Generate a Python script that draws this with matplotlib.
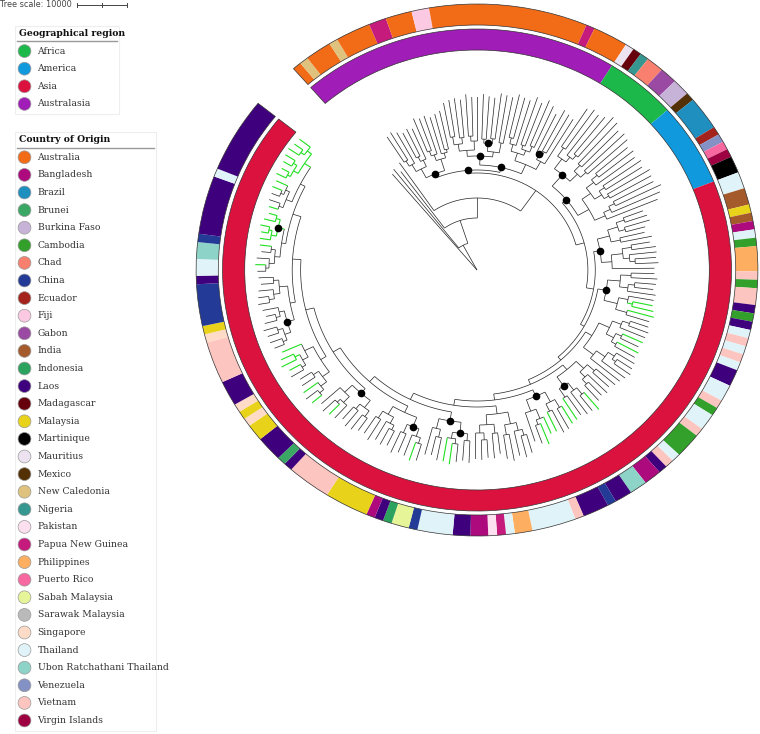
import numpy as np
import matplotlib
matplotlib.use('Agg')
import matplotlib.pyplot as plt
from matplotlib.patches import Wedge, Rectangle
from matplotlib.collections import LineCollection

# legend entries
countries = ['Australia', 'Bangladesh', 'Brazil', 'Brunei', 'Burkina Faso', 'Cambodia', 'Chad',
             'China', 'Ecuador', 'Fiji', 'Gabon', 'India', 'Indonesia', 'Laos', 'Madagascar',
             'Malaysia', 'Martinique', 'Mauritius', 'Mexico', 'New Caledonia', 'Nigeria',
             'Pakistan', 'Papua New Guinea', 'Philippines', 'Puerto Rico', 'Sabah Malaysia',
             'Sarawak Malaysia', 'Singapore', 'Thailand', 'Ubon Ratchathani Thailand',
             'Venezuela', 'Vietnam', 'Virgin Islands']
country_colors = ['#f26b16', '#ad0a7e', '#1f8fc0', '#3aa864', '#c8b3d8', '#33a02c', '#f9806e',
                  '#233a96', '#a4231c', '#fcc9e3', '#9b4aa3', '#a55a2b', '#2ca25f', '#3f007d',
                  '#67000d', '#e8d31a', '#000000', '#ece2f0', '#543005', '#dfc27d', '#35978f',
                  '#fde0ef', '#c51b7d', '#fdae61', '#f768a1', '#e6f598', '#bababa', '#fddbc7',
                  '#e0f3f8', '#8dd3c7', '#8491c5', '#fcc5c0', '#9e0142']
regions = ['Africa', 'America', 'Asia', 'Australasia']
region_colors = ['#1cb84a', '#1199dd', '#dc123e', '#a11db7']

# inner ring: regions clockwise from the gap, leaves per block
region_seq = ['Australasia', 'Africa', 'America', 'Asia']
region_leaves = [40, 9, 11, 132]

# outer ring: country blocks clockwise from the gap, leaves per block
ring_country = [
    'Australia', 'New Caledonia', 'Australia', 'New Caledonia', 'Australia', 'Papua New Guinea',
    'Australia', 'Fiji', 'Australia', 'Papua New Guinea', 'Australia',
    'Mauritius', 'Madagascar', 'Nigeria', 'Chad', 'Gabon', 'Burkina Faso',
    'Mexico', 'Brazil', 'Ecuador', 'Venezuela', 'Puerto Rico', 'Virgin Islands', 'Martinique',
    'Thailand', 'India', 'Malaysia', 'India', 'Bangladesh', 'Thailand', 'Cambodia', 'Philippines',
    'Vietnam', 'Cambodia', 'Vietnam', 'Laos', 'Cambodia', 'Laos', 'Thailand', 'Vietnam',
    'Thailand', 'Vietnam', 'Thailand', 'Laos',
    'Thailand', 'Vietnam', 'Cambodia', 'Thailand', 'Vietnam', 'Cambodia', 'Thailand', 'Vietnam',
    'Laos', 'Bangladesh', 'Ubon Ratchathani Thailand', 'Laos', 'China', 'Laos', 'Vietnam',
    'Thailand',
    'Philippines', 'Thailand', 'Papua New Guinea', 'Pakistan', 'Bangladesh', 'Laos', 'Thailand',
    'China', 'Sabah Malaysia', 'Indonesia', 'Laos', 'Bangladesh', 'Malaysia', 'Vietnam', 'Laos',
    'Brunei', 'Laos', 'Malaysia', 'Singapore', 'Malaysia', 'Singapore', 'Laos', 'Vietnam',
    'Singapore', 'Malaysia', 'China', 'Laos', 'Thailand', 'Ubon Ratchathani Thailand', 'China',
    'Laos', 'Thailand', 'Laos']
ring_leaves = [1, 1, 3, 1, 4, 2, 3, 2, 18, 1, 4,
               1, 1, 1, 2, 2, 2,
               1, 4, 1, 1, 1, 1, 2,
               2, 2, 1, 1, 1, 1, 1, 3, 1, 1, 2, 1, 1, 1, 1, 1, 1, 1, 1, 2,
               2, 1, 1, 2, 1, 3, 1, 1, 1, 2, 2, 2, 1, 3, 1, 5,
               2, 1, 1, 1, 2, 2, 4, 1, 2, 1, 1, 1, 5, 5, 1, 1, 3, 2, 1, 1, 1, 3, 5, 1, 1, 5,
               1, 2, 2, 1, 7, 1, 9]

# tree pieces (newick, lengths in px of radius, '*' = supported node)
outgroup = [':125', ':100', ':70', ':58']
aus_a = "((((:30,:32):6,:35):8,((:28,:30):5,:33):7):10,(((:36,:34):5,:40):6,(:38,(:37,:39):3):5):12)*:4"
aus_b = ("(((((:35,:37):8,(:40,:38):6):7,((:42,:39):5,:44):9):6,(((:45,:43):4,(:41,:46):5)*:8,"
         "(:48,:47):10):5)*:9,((((:44,:42):6,:47):7,((:50,:46):4,(:49,:45):6):5):8,"
         "((:43,(:46,:44):4)*:6,:52):9):10)*:5")
africa = "(((:45,:48):10,(:50,(:47,:52):5):6):12,((:55,:50):8,(:53,:51):7):10)*:15"
america = "((((:40,:42):7,:46):9,((:44,:41):6,(:47,:45):5):8):10,(((:43,:48):6,:50):7,:52):11):12"
asia = [
    "((((:20,:22):8,(:25,:19):6):10,(:24,:30):9):12,(((:18,:23):9,(:26,(:20,:22):5):6):11,:40):10)*:6",
    "(((:22,:25):10,((:20,:18):6,:27):8):12,((:24,(:19,:21):5):9,(:26,:23):11):13)*:8",
    "((((:18,:20):7,:26):9,((:21,:19):6,(:23,:22):5):8):11,(((:20,(:17,:19):4):7,:28):10,:36):12):7",
    "(((:24,:21):9,(:26,(:18,:20):6):7):10,(((:22,:19):8,:27):9,(:23,:25):10)*:11):6",
    "(((:20,:23):9,(:25,:21):8):11,((:18,(:22,:19):5):10,:30):12)*:7",
    "((((:19,:22):6,:25):8,(:27,:24):10):12,((:21,:25):9,((:18,:20):7,:26):8):10):8",
    "(((:22,:20):7,((:18,:21):5,:24):6)*:11,((:23,:19):8,:28):10)*:9",
    "((((:17,:19):6,:22):8,(:20,:23):9)*:10,(((:16,:18):5,:21):7,(:24,:20):8):9):7",
    "(((:15,:18):7,(:20,:16):6):9,((:17,(:14,:16):4):8,:24):10)*:6",
    "((((:12,:14):5,:17):7,(:15,:13):6):8,(((:14,:12):4,(:16,:13):5):6,:20):9):6",
    "((((:10,:12):4,(:11,:13):5):6,((:12,:9):4,:15):5)*:7,(((:11,:10):5,:14):6,(:12,:14):5):8):5",
    "((((:8,:10):3,:12):5,(:9,:11):4):5,((:10,(:7,:9):3):5,(:11,:8):4)*:6):4",
    "(((:9,:11):4,((:8,:10):3,:12):4):6,(((:10,:8):3,(:9,:11):4):5,((:12,:10):4,:13):5):7):5",
]
backbone_r = [0, 28, 52, 72, 97, 105, 112, 116, 120, 125, 131, 137, 144, 151, 159, 167, 175, 183]
green_tips = [78, 79, 80, 85, 87, 99, 103, 104, 107, 108, 109, 125, 126, 131, 145, 148, 150,
              154, 155, 156, 157, 171, 174, 175, 176, 177, 178, 179, 180,
              183, 184, 185, 186, 187, 188, 189, 190, 191]

# layout (pixels): circle centre, x stretch, ring radii, angular span
cx, cy, sx = 477, 270, 1.056
start, span = 130.8, 349.6
inner_ring = (220, 241)
outer_ring = (245, 266)


def parse(s):
    pos = 0

    def node():
        nonlocal pos
        kids = []
        if s[pos] == '(':
            pos += 1
            kids.append(node())
            while s[pos] == ',':
                pos += 1
                kids.append(node())
            pos += 1
        label = ''
        while pos < len(s) and s[pos] not in ':,)':
            label += s[pos]
            pos += 1
        ln = 0.0
        if pos < len(s) and s[pos] == ':':
            pos += 1
            st = pos
            while pos < len(s) and s[pos] not in ',)':
                pos += 1
            ln = float(s[st:pos])
        return {'kids': kids, 'label': label, 'len': ln}
    return node()


parts = [parse(s) for s in outgroup]
parts.append({'kids': [parse(aus_a), parse(aus_b)], 'label': '*', 'len': 3})
parts.append({'kids': [parse(africa), parse(america)], 'label': '*', 'len': 5})
parts += [parse(s) for s in asia]


def backbone(k):
    if k == len(backbone_r) - 1:
        rest = parts[k + 1]
    else:
        rest = backbone(k + 1)
        rest['len'] = backbone_r[k + 1] - backbone_r[k]
    return {'kids': [parts[k], rest], 'label': '', 'len': 0}


tree = backbone(0)
n_tips = [0]


def count(n):
    return 1 if not n['kids'] else sum(count(k) for k in n['kids'])


w_tree = span / count(tree)
green_set = set(green_tips)


def place(n, r):
    n['r'] = r
    if not n['kids']:
        i = n_tips[0]
        n_tips[0] += 1
        n['a'] = start - (i + 0.5) * w_tree
        n['g'] = i in green_set
        return
    for k in n['kids']:
        place(k, r + k['len'])
    n['a'] = (n['kids'][0]['a'] + n['kids'][-1]['a']) / 2
    n['g'] = all(k['g'] for k in n['kids'])


place(tree, 0)

black_lines, green_lines, dots = [], [], []


def pt(r, a):
    t = np.radians(a)
    return r * np.cos(t), r * np.sin(t)


def collect(n):
    if not n['kids']:
        return
    a0, a1 = n['kids'][0]['a'], n['kids'][-1]['a']
    aa = np.linspace(a0, a1, max(2, int(abs(a1 - a0) * 2)))
    arc = np.column_stack(pt(n['r'], aa))
    (green_lines if n['g'] else black_lines).append(arc)
    for k in n['kids']:
        seg = [pt(n['r'], k['a']), pt(k['r'], k['a'])]
        (green_lines if k['g'] else black_lines).append(seg)
        collect(k)
    if n['label'] == '*':
        dots.append(pt(n['r'], n['a']))


collect(tree)

fig = plt.figure(figsize=(7.6, 7.34), dpi=100)
ax = fig.add_axes([0, 0, 1, 1])
ax.set_xlim(-cx / sx, (760 - cx) / sx)
ax.set_ylim(cy - 734, cy)
ax.axis('off')

# inner ring (regions)
reg_col = dict(zip(regions, region_colors))
a = start
w_reg = span / sum(region_leaves)
for name, n in zip(region_seq, region_leaves):
    ax.add_patch(Wedge((0, 0), inner_ring[1], a - n * w_reg, a, width=inner_ring[1] - inner_ring[0],
                       facecolor=reg_col[name], edgecolor='none'))
    a -= n * w_reg
ax.add_patch(Wedge((0, 0), inner_ring[1], start - span, start, width=inner_ring[1] - inner_ring[0],
                   fill=False, edgecolor='#333333', lw=0.5))

# outer ring (countries)
cty_col = dict(zip(countries, country_colors))
a = start
w_ring = span / sum(ring_leaves)
for name, n in zip(ring_country, ring_leaves):
    ax.add_patch(Wedge((0, 0), outer_ring[1], a - n * w_ring, a, width=outer_ring[1] - outer_ring[0],
                       facecolor=cty_col[name], edgecolor='none'))
    a -= n * w_ring
ax.add_patch(Wedge((0, 0), outer_ring[1], start - span, start, width=outer_ring[1] - outer_ring[0],
                   fill=False, edgecolor='#333333', lw=0.5))

ax.add_collection(LineCollection(black_lines, colors='#222222', linewidths=0.5))
ax.add_collection(LineCollection(green_lines, colors='#22e022', linewidths=0.8))
dx, dy = zip(*dots)
ax.plot(dx, dy, 'o', color='black', markersize=4.5)

# legend / labels in pixel coordinates
lg = fig.add_axes([0, 0, 1, 1])
lg.set_xlim(0, 760)
lg.set_ylim(734, 0)
lg.axis('off')

lg.text(0, 4.5, 'Tree scale: 10000', fontsize=5.9, color='#444444', va='center', ha='left')
lg.plot([77, 127], [4.5, 4.5], color='#444444', lw=0.7)
for x in (77, 102, 127):
    lg.plot([x, x], [2.5, 6.5], color='#444444', lw=0.7)


def legend_block(y0, title, names, colors, x_right):
    lg.add_patch(Rectangle((15, y0 - 8), x_right - 15, 17.6 * len(names) + 18,
                           fill=False, edgecolor='#eeeeee', lw=0.8))
    lg.text(19, y0, title, family='DejaVu Serif', fontweight='bold', fontsize=6.7,
            va='center', ha='left', color='#111111')
    lg.plot([17, x_right - 2], [y0 + 7.8, y0 + 7.8], color='#999999', lw=1)
    ys = y0 + 17.6 * (np.arange(len(names)) + 1)
    lg.scatter(np.full(len(names), 24.5), ys, s=85, c=colors, edgecolors='#999999',
               linewidths=0.5, zorder=3)
    for y, name in zip(ys, names):
        lg.text(37.5, y, name, family='DejaVu Serif', fontsize=6.65, va='center', ha='left',
                color='#333333')


legend_block(33.5, 'Geographical region', regions, region_colors, 119)
legend_block(139.7, 'Country of Origin', countries, country_colors, 156)

fig.savefig('out.png', dpi=100)
